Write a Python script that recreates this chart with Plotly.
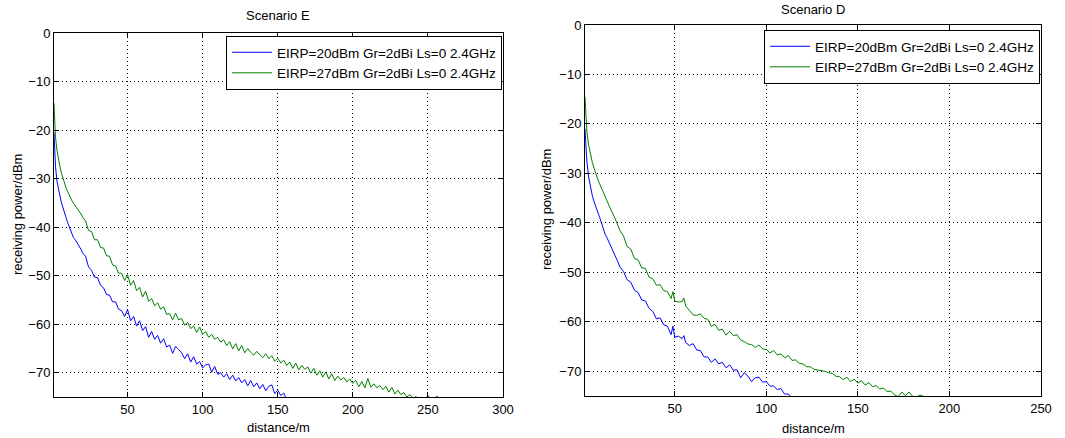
import plotly.graph_objects as go

# ---------------- Scenario E ----------------
e_blue_d = [1, 1.5, 2, 3, 4, 5, 6, 7, 8, 9, 10, 11, 12, 13, 14, 15, 16, 17, 18, 19, 20,
            22, 24, 26, 28, 30, 32, 34, 36, 38, 40, 42, 44, 46, 48, 50, 52, 54, 56, 58, 60,
            62, 64, 66, 68, 70, 72, 74, 76, 78, 80, 82, 84, 86, 88, 90, 92, 94, 96, 98, 100,
            102, 104, 106, 108, 110, 112, 114, 116, 118, 120, 122, 124, 126, 128, 130, 132,
            134, 136, 138, 140, 142, 144, 146, 148, 150, 152, 154, 156]
e_blue_p = [-20.5, -25.0, -27.5, -30.6, -32.4, -33.6, -35.0, -36.2, -37.0, -38.0, -39.0,
            -39.8, -40.8, -41.6, -42.2, -42.5, -43.0, -43.4, -43.9, -44.6, -45.3,
            -46.0, -48.2, -48.9, -50.3, -50.4, -52.0, -52.5, -53.9, -54.0, -55.4, -55.4,
            -56.9, -57.2, -58.4, -57.0, -59.3, -58.4, -60.4, -59.3, -61.3,
            -60.5, -62.7, -61.5, -63.1, -62.3, -63.9, -63.0, -64.7, -64.3, -66.0, -64.6,
            -65.2, -65.9, -67.1, -66.1, -67.8, -66.7, -68.2, -67.7, -69.0,
            -68.4, -68.2, -69.9, -68.7, -70.3, -70.0, -70.9, -70.2, -71.4, -70.5, -71.7,
            -71.0, -72.1, -71.4, -72.7, -71.6, -72.9, -72.1, -73.3, -72.4, -73.7, -72.8,
            -72.5, -74.3, -73.6, -74.7, -74.2, -75.6]

e_green_d = [1, 1.5, 2, 3, 4, 5, 6, 7, 8, 9, 10, 11, 12, 13, 14, 15, 16, 17, 18, 19, 20,
             22, 24, 26, 28, 30, 32, 34, 36, 38, 40, 42, 44, 46, 48, 50, 52, 54, 56, 58, 60,
             62, 64, 66, 68, 70, 72, 74, 76, 78, 80, 82, 84, 86, 88, 90, 92, 94, 96, 98, 100,
             102, 104, 106, 108, 110, 112, 114, 116, 118, 120, 122, 124, 126, 128, 130, 132,
             134, 136, 138, 140, 142, 144, 146, 148, 150, 152, 154, 156, 158, 160, 162, 164,
             166, 168, 170, 172, 174, 176, 178, 180, 182, 184, 186, 188, 190, 192, 194, 196,
             198, 200, 202, 204, 206, 208, 210, 212, 214, 216, 218, 220, 222, 224, 226, 228,
             230, 232, 234, 236, 238, 240, 242, 244, 246, 248, 250, 252, 254, 256, 258]
e_green_p = [-14.5, -19.0, -21.5, -24.2, -26.2, -27.6, -28.9, -30.0, -31.0, -31.9, -32.6,
             -33.4, -34.0, -34.6, -35.1, -35.5, -36.0, -36.4, -36.8, -37.3, -37.9,
             -38.7, -40.7, -40.9, -42.6, -42.6, -44.2, -44.3, -45.9, -46.0, -47.8, -48.0,
             -49.5, -49.5, -51.0, -49.8, -52.0, -51.0, -53.1, -52.4, -54.4,
             -53.2, -55.3, -54.7, -56.2, -55.6, -56.9, -56.4, -58.0, -57.8, -59.1, -57.7,
             -59.1, -58.8, -60.2, -59.6, -60.9, -60.4, -61.7, -60.6, -62.1,
             -61.5, -62.7, -62.1, -63.1, -62.7, -63.7, -63.2, -64.4, -63.6, -65.1, -64.0,
             -65.5, -64.4, -65.9, -65.0, -65.8, -66.4, -65.6, -66.3, -66.9, -66.1, -67.1,
             -66.5, -67.6, -67.0, -68.0, -67.4, -68.5, -67.8, -69.1, -68.0, -69.4,
             -68.5, -69.3, -68.8, -70.1, -69.1, -70.5, -69.6, -70.9, -69.8, -71.3, -70.2,
             -71.6, -70.7, -71.5, -71.0, -71.9, -71.3, -72.2, -71.6, -72.9, -71.8, -73.1,
             -71.2, -73.0, -72.3, -73.1, -72.6, -73.5, -72.8, -74.0, -73.0, -74.4,
             -73.6, -74.5, -74.1, -75.0, -74.5, -75.3, -74.9, -75.4, -75.2, -75.6, -74.7,
             -75.5, -75.3, -74.8, -75.5]

# ---------------- Scenario D ----------------
d_blue_d = [1, 1.5, 2, 3, 4, 5, 6, 7, 8, 9, 10, 11, 12, 13, 14, 15, 16, 17, 18, 19, 20,
            22, 24, 26, 28, 30, 32, 34, 36, 38, 40, 42, 44, 46, 48, 49, 50, 52, 54, 55, 56,
            58, 60, 62, 64, 66, 68, 70, 72, 74, 76, 78, 80, 82, 84, 86, 88, 90, 92, 94, 96,
            98, 100, 102, 104, 106, 108, 110, 112, 114, 116]
d_blue_p = [-21.0, -25.0, -27.5, -30.8, -32.8, -34.5, -35.8, -37.0, -38.0, -38.9, -40.0,
            -41.2, -42.3, -43.0, -43.8, -44.6, -45.3, -46.0, -46.8, -47.9, -48.9,
            -49.8, -51.5, -52.0, -53.6, -54.1, -55.6, -55.8, -57.3, -57.9, -59.4, -59.2,
            -60.6, -60.9, -62.6, -60.9, -63.1, -62.9, -63.4, -62.8, -64.2,
            -64.8, -64.4, -65.7, -65.8, -67.1, -67.1, -68.2, -67.5, -68.5, -68.2, -69.3,
            -68.7, -69.8, -69.7, -71.3, -70.3, -71.0, -72.1, -71.3, -71.2,
            -72.2, -72.1, -73.0, -73.0, -73.7, -73.5, -74.6, -74.6, -75.4, -75.6]

d_green_d = [1, 1.5, 2, 3, 4, 5, 6, 7, 8, 9, 10, 11, 12, 13, 14, 15, 16, 17, 18, 19, 20,
             22, 24, 26, 28, 30, 32, 34, 36, 38, 40, 42, 44, 46, 48, 49, 50, 52, 54, 55, 56,
             58, 60, 62, 64, 66, 68, 70, 72, 74, 76, 78, 80, 82, 84, 86, 88, 90, 92, 94, 96,
             98, 100, 102, 104, 106, 108, 110, 112, 114, 116, 118, 120, 122, 124, 126, 128,
             130, 132, 134, 136, 138, 140, 142, 144, 146, 148, 150, 152, 154, 156, 158, 160,
             162, 164, 166, 168, 170, 172, 174, 176, 178, 180, 182, 184, 186, 188]
d_green_p = [-14.5, -19.0, -21.5, -24.3, -26.3, -27.8, -29.0, -30.3, -31.2, -32.1, -33.0,
             -34.0, -34.9, -35.7, -36.4, -37.2, -37.9, -38.8, -39.6, -40.6, -41.5,
             -42.6, -44.8, -45.3, -47.2, -47.5, -49.1, -49.2, -51.0, -51.3, -52.6, -52.5,
             -53.7, -53.9, -55.3, -53.9, -55.8, -56.0, -55.9, -55.2, -56.8,
             -57.7, -58.6, -58.7, -58.4, -59.3, -59.5, -60.9, -60.5, -61.7, -61.5, -62.7,
             -61.9, -62.8, -62.6, -63.7, -64.0, -64.5, -64.6, -65.2, -64.7,
             -65.5, -65.6, -66.3, -65.8, -66.7, -66.5, -67.3, -66.8, -67.8, -67.7, -68.4,
             -68.5, -69.1, -69.1, -69.6, -69.7, -69.9, -70.0, -70.3, -70.4, -71.0, -71.1,
             -71.7, -71.2, -72.1, -71.6, -72.4, -71.9, -72.8, -72.3, -73.1, -72.9,
             -73.6, -73.4, -74.1, -74.0, -74.8, -75.1, -74.2, -74.9, -74.2, -75.1, -75.2,
             -74.8, -75.1, -75.5]

label_20 = "EIRP=20dBm Gr=2dBi Ls=0 2.4GHz"
label_27 = "EIRP=27dBm Gr=2dBi Ls=0 2.4GHz"
titles = ["Scenario E", "Scenario D"]
x_title = "distance/m"
y_title = "receiving power/dBm"
y_ticks = [0, -10, -20, -30, -40, -50, -60, -70]
x_ticks_e = [50, 100, 150, 200, 250, 300]
x_ticks_d = [50, 100, 150, 200, 250]

BLUE = "#0000ff"
GREEN = "#008000"
W, H = 1065, 438
FONT = "Liberation Sans, Arial, sans-serif"

fig = go.Figure()
fig.add_trace(go.Scatter(x=e_blue_d, y=e_blue_p, mode="lines", name=label_20,
                         line=dict(color=BLUE, width=1), xaxis="x", yaxis="y", legend="legend"))
fig.add_trace(go.Scatter(x=e_green_d, y=e_green_p, mode="lines", name=label_27,
                         line=dict(color=GREEN, width=1), xaxis="x", yaxis="y", legend="legend"))
fig.add_trace(go.Scatter(x=d_blue_d, y=d_blue_p, mode="lines", name=label_20,
                         line=dict(color=BLUE, width=1), xaxis="x2", yaxis="y2", legend="legend2"))
fig.add_trace(go.Scatter(x=d_green_d, y=d_green_p, mode="lines", name=label_27,
                         line=dict(color=GREEN, width=1), xaxis="x2", yaxis="y2", legend="legend2"))


def px(v):
    return v / W


def py(v):
    return 1 - v / H


axis_common = dict(showline=True, linecolor="black", linewidth=1, mirror="allticks",
                   ticks="inside", ticklen=5, tickcolor="black", showgrid=True,
                   gridcolor="black", griddash="1px,3px", gridwidth=1, zeroline=False,
                   automargin=False,
                   tickfont=dict(size=13, color="black", family=FONT))

legend_common = dict(xanchor="right", yanchor="top", bgcolor="white", bordercolor="black",
                     borderwidth=1, itemwidth=40, tracegroupgap=0,
                     font=dict(size=13.5, color="black", family=FONT))


def text_ann(text, x, y, angle=0, size=13):
    return dict(text=text, x=px(x), y=py(y), xref="paper", yref="paper",
                xanchor="center", yanchor="middle", showarrow=False, textangle=angle,
                font=dict(size=size, color="black", family=FONT))


fig.update_layout(
    template="none",
    width=W, height=H, autosize=False,
    margin=dict(l=0, r=0, t=0, b=0, pad=0),
    paper_bgcolor="white", plot_bgcolor="white",
    font=dict(family=FONT, size=13, color="black"),
    xaxis=dict(domain=[px(54), px(503)], range=[1, 300], tickvals=x_ticks_e,
               anchor="y", **axis_common),
    yaxis=dict(domain=[py(397), py(33)], range=[-75, 0], tickvals=y_ticks,
               anchor="x", **axis_common),
    xaxis2=dict(domain=[px(585), px(1041)], range=[1, 250], tickvals=x_ticks_d,
                anchor="y2", **axis_common),
    yaxis2=dict(domain=[py(396), py(25)], range=[-75, 0], tickvals=y_ticks,
                anchor="x2", **axis_common),
    legend=dict(x=px(502), y=py(36), **legend_common),
    legend2=dict(x=px(1040), y=py(30), **legend_common),
    annotations=[
        text_ann(titles[0], 278, 15),
        text_ann(titles[1], 813, 10),
        text_ann(x_title, 278, 427),
        text_ann(x_title, 813, 428),
        text_ann(y_title, 17, 215, angle=-90),
        text_ann(y_title, 547, 210, angle=-90),
    ],
)

fig.write_html("out.html", config={"displayModeBar": False},
               post_script="document.body.style.margin='0';")
